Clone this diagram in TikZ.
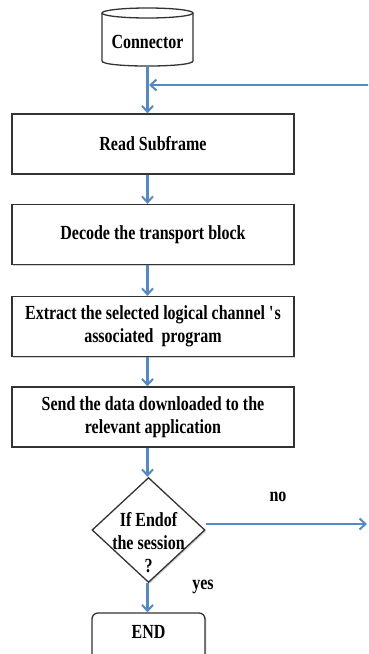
\documentclass[tikz,border=0pt]{standalone}
\usepackage{fontspec}
\setmainfont{Liberation Serif}[FakeStretch=0.8]
\usetikzlibrary{arrows.meta,shapes.geometric,shadows,calc}
\definecolor{arrowblue}{HTML}{5589C6}
\definecolor{boxgray}{HTML}{333333}
\tikzset{
  txt/.style={font=\bfseries\fontsize{20}{23}\selectfont, align=center, inner sep=0pt},
  flow/.style={draw=arrowblue, line width=2.4pt, -{Straight Barb[length=6pt,width=11pt,line width=2pt]}},
  boxshadow/.style={drop shadow={shadow xshift=1.3pt, shadow yshift=-1.3pt, opacity=0.3, fill=black!60}},
  procbox/.style={txt, draw=boxgray, line width=1.3pt, fill=white, minimum width=282pt, minimum height=60pt, boxshadow},
  decision/.style={shape=diamond, draw=boxgray, line width=1.3pt, fill=white, minimum width=113pt, minimum height=105pt, inner sep=0pt, boxshadow},
  endbox/.style={draw=boxgray, line width=1.3pt, fill=white, rounded corners=6pt, minimum width=113pt, minimum height=56pt, inner sep=0pt, boxshadow},
  cylline/.style={draw=boxgray, line width=1.3pt}
}
\begin{document}
\begin{tikzpicture}[x=1pt,y=-1pt]
\useasboundingbox (0,0) rectangle (368,654);
\clip (0,0) rectangle (368,654);
% connector cylinder
\fill[white] (102,13) rectangle (193,61);
\draw[cylline] (102,13) -- (102,61) .. controls (102,67.7) and (193,67.7) .. (193,61) -- (193,13);
\draw[cylline, fill=white] (147.5,13) ellipse [x radius=45.5, y radius=5];
\node[txt, minimum width=91pt, minimum height=48pt] (conn) at (147.5,42) {Connector};
% process boxes
\node[procbox] (read) at (153,144) {Read Subframe};
\node[procbox] (decode) at (153,234.5) {Decode the transport block};
\node[procbox] (extract) at (153,326.5) {Extract the selected logical channel \textquotesingle s\\associated\ \ program};
\node[procbox] (send) at (153,417) {Send the data downloaded to the\\relevant application};
% decision
\node[decision] (dec) at (148.5,530) {};
\node[txt] (dectxt) at (148.5,543) {If Endof\\the session\\?};
% end
\node[endbox] (endn) at (148.5,641) {};
\node[txt] (endtxt) at (148.5,632) {END};
% labels
\node[txt] (nolbl) at (278,497) {no};
\node[txt] (yeslbl) at (203,587) {yes};
% connectors
\coordinate (fbin) at (370,85);
\coordinate (noend) at (367,524);
\draw[flow] (conn.south) -- (read.north -| conn.south);
\draw[flow] (fbin) -- ($(conn.south |- fbin)+(1.5,0)$);
\draw[flow] (read.south -| conn.south) -- (decode.north -| conn.south);
\draw[flow] (decode.south -| conn.south) -- (extract.north -| conn.south);
\draw[flow] (extract.south -| conn.south) -- (send.north -| conn.south);
\draw[flow] (send.south -| conn.south) -- (dec.north -| conn.south);
\draw[flow] (dec.east |- noend) -- (noend);
\draw[flow] (dec.south -| conn.south) -- (endn.north -| conn.south);
\end{tikzpicture}
\end{document}
